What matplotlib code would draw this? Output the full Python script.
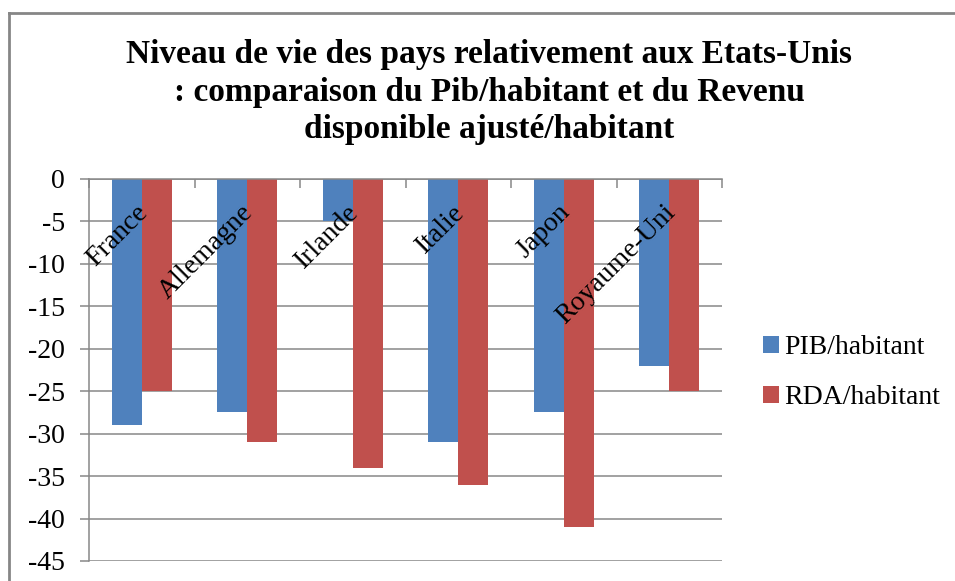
import numpy as np
from matplotlib import pyplot as plt
from matplotlib.lines import Line2D

# Data
countries = ["France", "Allemagne", "Irlande", "Italie", "Japon", "Royaume-Uni"]
pib = [-29, -27.4, -5, -31, -27.4, -22]
rda = [-25, -31, -34, -36, -41, -25]
series_names = ["PIB/habitant", "RDA/habitant"]
title_lines = ["Niveau de vie des pays relativement aux Etats-Unis",
               ": comparaison du Pib/habitant et du Revenu",
               "disponible ajusté/habitant"]
yticks = list(range(0, -50, -5))

blue = "#4F81BD"
red = "#C0504D"
grid_gray = "#878787"

plt.rcParams['font.family'] = ['Liberation Serif', 'DejaVu Serif']

fig = plt.figure(figsize=(9.55, 5.81), dpi=100)
ax = fig.add_axes([89 / 955, 20 / 581, (722 - 89) / 955, (561 - 179) / 581])

x = np.arange(len(countries))
w = 0.285
ax.bar(x - w / 2, pib, w, color=blue, label=series_names[0], zorder=2)
ax.bar(x + w / 2, rda, w, color=red, label=series_names[1], zorder=2)

ax.set_xlim(-0.5, len(countries) - 0.5)
ax.set_ylim(-45, 0)
ax.set_yticks(yticks)
ax.set_yticklabels([str(v) for v in yticks], fontsize=20)
ax.yaxis.grid(True, color=grid_gray, linewidth=1.1, zorder=0)
ax.set_axisbelow(True)

# category axis sits at y = 0 (top)
ax.xaxis.tick_top()
ax.set_xticks(np.arange(-0.5, len(countries), 1.0))
ax.set_xticklabels([])
ax.tick_params(axis='x', direction='in', length=6.5, width=1.1, color=grid_gray)
ax.tick_params(axis='y', direction='out', length=6.5, width=1.1, color=grid_gray, pad=11)

for s in ["right", "bottom"]:
    ax.spines[s].set_visible(False)
for s in ["left", "top"]:
    ax.spines[s].set_color(grid_gray)
    ax.spines[s].set_linewidth(1.1)

# category labels, rotated, just below the zero line
for i, name in enumerate(countries):
    ax.text(i + 0.02, -3.5, name, rotation=45, ha='right', va='center',
            rotation_mode='anchor', fontsize=20, zorder=3)

# title, one line at a time
for k, line in enumerate(title_lines):
    fig.text(0.512, 1 - [63, 101, 138][k] / 581, line, ha='center', va='baseline',
             fontsize=24, fontweight='bold')

# legend
ax.legend(frameon=False, loc='center left', bbox_to_anchor=(763 / 955, 1 - 373 / 581),
          bbox_transform=fig.transFigure, fontsize=20, handlelength=0.58,
          handleheight=0.58, handletextpad=0.2, labelspacing=0.9,
          borderpad=0, borderaxespad=0)

# outer chart border (cut at right and bottom)
fig.add_artist(Line2D([9 / 955, 9 / 955], [0, 1 - 13 / 581], color="#868686", linewidth=2))
fig.add_artist(Line2D([9 / 955, 1], [1 - 13 / 581, 1 - 13 / 581], color="#868686", linewidth=2))

fig.savefig("out.png", dpi=100)
